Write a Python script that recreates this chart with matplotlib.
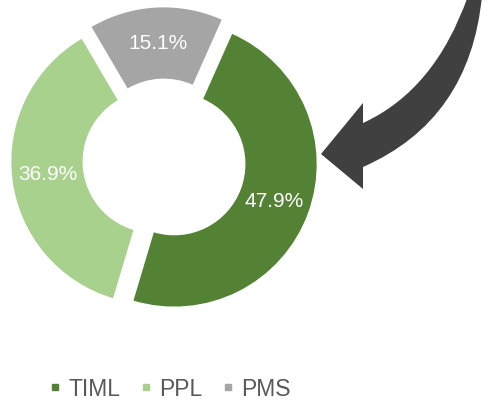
import matplotlib.pyplot as plt
from matplotlib.path import Path
from matplotlib.patches import PathPatch
from matplotlib.lines import Line2D

plt.rcParams['font.family'] = ['Liberation Sans', 'DejaVu Sans']

# data
categories = ["TIML", "PPL", "PMS"]
shares = [47.9, 36.9, 15.1]
colors = ["#548235", "#A9D18E", "#A5A5A5"]

W, H = 489, 404
fig = plt.figure(figsize=(W / 100, H / 100), dpi=100)

# background axes in pixel coords (y down) for the arrow
bg = fig.add_axes([0, 0, 1, 1])
bg.set_xlim(0, W)
bg.set_ylim(H, 0)
bg.axis("off")

verts = [(482, -4), (470, 120), (363, 167),
         (363, 189), (321, 154), (363, 103), (363, 123),
         (435, 90), (468, -4), (482, -4)]
codes = [Path.MOVETO, Path.CURVE3, Path.CURVE3,
         Path.LINETO, Path.LINETO, Path.LINETO, Path.LINETO,
         Path.CURVE3, Path.CURVE3, Path.CLOSEPOLY]
bg.add_patch(PathPatch(Path(verts, codes), facecolor="#404040", edgecolor="none"))

# doughnut axes: unit radius = 142.5 px, centre at (164.3, 160.4) px
R = 142.5
cx, cy = 164.3, H - 160.4
side = 2 * 1.25 * R
ax = fig.add_axes([(cx - side / 2) / W, (cy - side / 2) / H, side / W, side / H])
wedges, texts, autotexts = ax.pie(
    shares, colors=colors, startangle=66, counterclock=False,
    explode=[0.074] * 3, radius=1, autopct="%1.1f%%", pctdistance=0.75,
    wedgeprops=dict(width=0.5, linewidth=0),
    textprops=dict(color="white", fontsize=15))
ax.set_xlim(-1.25, 1.25)
ax.set_ylim(-1.25, 1.25)

handles = [Line2D([], [], marker="s", linestyle="none", color=c, markersize=4.7)
           for c in colors]
fig.legend(handles, categories, loc="center", bbox_to_anchor=(170 / W, 1 - 389 / H),
           ncol=3, frameon=False, fontsize=16.5, labelcolor="#595959",
           handlelength=0.5, handletextpad=0.35, columnspacing=0.85, borderpad=0)

fig.savefig("out.png", dpi=100)
